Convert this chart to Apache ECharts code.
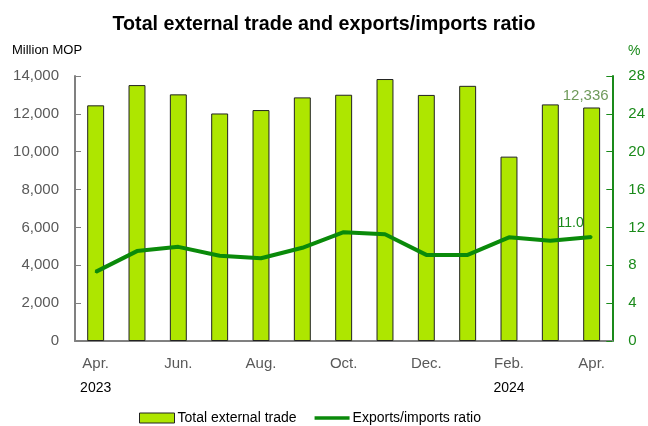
<!DOCTYPE html>
<html><head><meta charset="utf-8">
<script src="https://cdn.jsdelivr.net/npm/echarts@6/dist/echarts.min.js"></script>
<style>html,body{margin:0;padding:0;background:#fff}#c{width:648px;height:426px}</style>
</head><body><div id="c"></div>
<script>
const months = ['Apr.','May','Jun.','Jul.','Aug.','Sep.','Oct.','Nov.','Dec.','Jan.','Feb.','Mar.','Apr.'];
const years = ['2023','','','','','','','','','','2024','',''];
const totalTrade = [12450, 13520, 13030, 12020, 12200, 12870, 13010, 13840, 13000, 13480, 9740, 12500, 12336];
const ratio = [7.3, 9.5, 9.95, 9.0, 8.75, 9.85, 11.5, 11.28, 9.1, 9.1, 10.95, 10.6, 11.0];
const leftTicks = {min: 0, max: 14000, interval: 2000};
const rightTicks = {min: 0, max: 28, interval: 4};

const FONT = "'Liberation Sans Narrow','Arial Narrow','Liberation Sans',Arial,sans-serif";
const chart = echarts.init(document.getElementById('c'));
const last = totalTrade.length - 1;
chart.setOption({
  animation: false,
  textStyle: {fontFamily: FONT},
  title: {
    text: 'Total external trade and exports/imports ratio',
    left: 'center', top: 10,
    textStyle: {fontFamily: FONT, fontSize: 19.7, fontWeight: 'bold', color: '#000'}
  },
  graphic: [
    {type: 'text', left: 12, top: 44, style: {text: 'Million MOP', font: "13px " + FONT, fill: '#000'}},
    {type: 'text', left: 628, top: 44, style: {text: '%', font: "14px " + FONT, fill: '#1a8a1a'}}
  ],
  legend: {
    bottom: 1, left: 139, padding: 0, itemGap: 18, itemWidth: 35, itemHeight: 10,
    textStyle: {fontFamily: FONT, fontSize: 14, color: '#000', padding: [0, 0, 0, -2]},
    data: [
      {name: 'Total external trade', icon: 'rect', itemStyle: {color: '#AEE600', borderColor: '#222', borderWidth: 1}},
      {name: 'Exports/imports ratio', icon: 'path://M0,0L40,0L40,4L0,4Z', itemStyle: {color: '#0a8a0a'}}
    ]
  },
  grid: {left: 75, right: 35, top: 76, bottom: 85},
  xAxis: {
    type: 'category', data: months,
    axisLine: {lineStyle: {color: '#808080', width: 2}},
    axisTick: {inside: true, length: 6, lineStyle: {color: '#808080'}},
    axisLabel: {
      interval: 1, margin: 10,
      formatter: (v, i) => v + (years[i] ? '\n{y|' + years[i] + '}' : ''),
      color: '#595959', fontSize: 15, fontFamily: FONT, lineHeight: 25,
      rich: {y: {color: '#000', fontSize: 14, fontFamily: FONT, lineHeight: 25}}
    }
  },
  yAxis: [
    {
      type: 'value', min: leftTicks.min, max: leftTicks.max, interval: leftTicks.interval,
      axisLine: {show: true, lineStyle: {color: '#808080', width: 2}},
      axisTick: {show: true, inside: true, length: 6, lineStyle: {color: '#808080'}},
      splitLine: {show: false},
      axisLabel: {color: '#595959', fontSize: 15, fontFamily: FONT, margin: 16,
        formatter: v => v.toLocaleString('en-US')}
    },
    {
      type: 'value', min: rightTicks.min, max: rightTicks.max, interval: rightTicks.interval,
      position: 'right',
      axisLine: {show: true, lineStyle: {color: '#1a8a1a', width: 2}},
      axisTick: {show: true, inside: true, length: 6, lineStyle: {color: '#1a8a1a'}},
      splitLine: {show: false},
      axisLabel: {color: '#1a8a1a', fontSize: 15, fontFamily: FONT, margin: 16}
    }
  ],
  series: [
    {
      name: 'Total external trade', type: 'bar', yAxisIndex: 0, barWidth: '41%',
      itemStyle: {color: '#AEE600', borderColor: '#222', borderWidth: 1},
      data: totalTrade.map((v, i) => i === last ? {value: v, label: {show: true, position: 'top', distance: 4,
        offset: [-6, 0], formatter: p => p.value.toLocaleString('en-US'), color: '#6f9a5a', fontSize: 15, fontFamily: FONT}} : v)
    },
    {
      name: 'Exports/imports ratio', type: 'line', yAxisIndex: 1,
      symbol: 'circle', symbolSize: 2, showSymbol: true,
      lineStyle: {color: '#0a8a0a', width: 4}, itemStyle: {color: '#0a8a0a'},
      data: ratio.map((v, i) => i === last ? {value: v, label: {show: true, position: 'top', offset: [-21, -1],
        formatter: p => p.value.toFixed(1), color: '#1a8a1a', fontSize: 14, fontFamily: FONT}} : v)
    }
  ]
});
</script></body></html>
